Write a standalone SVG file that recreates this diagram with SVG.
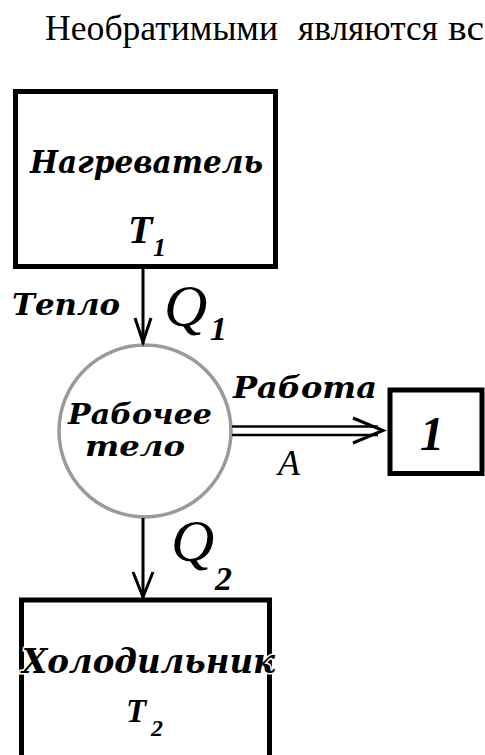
<svg xmlns="http://www.w3.org/2000/svg" width="485" height="755" viewBox="0 0 485 755">
<style>
.box{fill:none;stroke:#000;stroke-width:5}
.lbl{font-family:"DejaVu Serif","Liberation Serif",serif;font-style:italic;font-weight:bold;fill:#000}
.sym{font-family:"Liberation Serif","DejaVu Serif",serif;font-style:italic;fill:#000}
.body{font-family:"Liberation Serif","DejaVu Serif",serif;fill:#000;font-size:36px}
.ln{stroke:#000;stroke-width:3;fill:none}
</style>
<rect width="485" height="755" fill="#fff"/>
<text class="body" y="40"><tspan x="45" textLength="233" lengthAdjust="spacingAndGlyphs">Необратимыми</tspan><tspan x="298" textLength="140" lengthAdjust="spacingAndGlyphs">являются</tspan><tspan x="448" textLength="36" lengthAdjust="spacingAndGlyphs">вс</tspan></text>
<g id="heater">
<rect class="box" x="15.5" y="91.5" width="260" height="175"/>
<text class="lbl" x="30" y="173" font-size="32" textLength="233" lengthAdjust="spacingAndGlyphs">Нагреватель</text>
<text class="sym" x="128" y="243" font-size="40" font-weight="bold">T</text>
<text class="sym" x="153" y="256" font-size="26" font-weight="bold">1</text>
</g>
<g id="body">
<circle cx="145" cy="431" r="86" fill="#fff" stroke="#9a9a9a" stroke-width="3.5"/>
<text class="lbl" x="68" y="424" font-size="27" textLength="144" lengthAdjust="spacingAndGlyphs">Рабочее</text>
<text class="lbl" x="85" y="456" font-size="27" textLength="100" lengthAdjust="spacingAndGlyphs">тело</text>
</g>
<g id="consumer">
<rect class="box" x="390" y="390" width="92" height="83.5"/>
<text class="sym" x="420" y="450" font-size="48" font-weight="bold">1</text>
</g>
<g id="cooler">
<path class="box" d="M21.5 760 V600 H269.5 V760"/>
<text class="lbl" x="22" y="673" font-size="33" textLength="253" lengthAdjust="spacingAndGlyphs" stroke="#fff" stroke-width="3" paint-order="stroke">Холодильник</text>
<text class="sym" x="126" y="722" font-size="33" font-weight="bold">T</text>
<text class="sym" x="151" y="736" font-size="24" font-weight="bold">2</text>
</g>
<g id="connectors">
<path class="ln" d="M143 268 V344"/>
<path class="ln" d="M135 318 L143 342 L151 318"/>
<path class="ln" d="M143 518 V598"/>
<path class="ln" d="M133 572 L143 597 L153 572"/>
<path stroke="#000" stroke-width="2.5" d="M232 426.5 H378 M232 435 H378"/>
<path class="ln" d="M353 418 L383 430.5 L353 443"/>
</g>
<g id="labels">
<text class="lbl" x="12" y="315" font-size="29" textLength="108" lengthAdjust="spacingAndGlyphs">Тепло</text>
<text class="sym" x="164" y="326" font-size="60">Q</text>
<text class="sym" x="210" y="340" font-size="34" font-weight="bold">1</text>
<text class="lbl" x="233" y="398" font-size="29" textLength="144" lengthAdjust="spacingAndGlyphs">Работа</text>
<text class="sym" x="278" y="475" font-size="36">A</text>
<text class="sym" x="171" y="561" font-size="60">Q</text>
<text class="sym" x="215" y="590" font-size="34" font-weight="bold">2</text>
</g>
</svg>
